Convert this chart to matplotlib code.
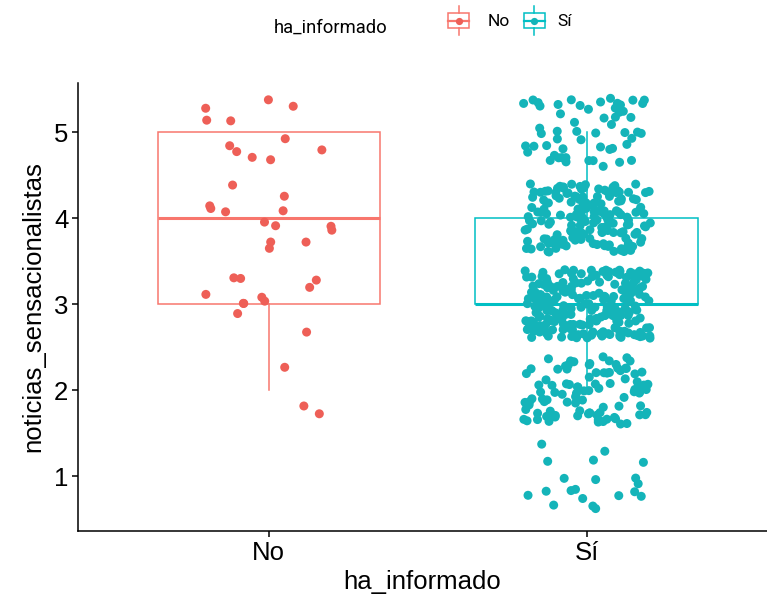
import numpy as np
import matplotlib
matplotlib.use("Agg")
import matplotlib.pyplot as plt
from matplotlib.patches import Rectangle
from matplotlib.lines import Line2D

# ---- data ----
groups = ["No", "Sí"]
levels = [1, 2, 3, 4, 5]
counts_no = [0, 3, 11, 13, 11]
counts_si = [20, 100, 230, 165, 55]
colors = ["#F8766D", "#00BFC4"]
point_colors = ["#EE5F57", "#14B4B9"]
x_label = "ha_informado"
y_label = "noticias_sensacionalistas"
legend_title = "ha_informado"
yticks = [1, 2, 3, 4, 5]

plt.rcParams['font.family'] = ['Liberation Sans', 'DejaVu Sans']

W, H = 767, 601
fig = plt.figure(figsize=(W / 100, H / 100), dpi=100)
ax = fig.add_axes([78 / W, 70 / H, 1 - 78 / W, (531 - 83) / H])

def expand(counts):
    vals = []
    for lv, c in zip(levels, counts):
        vals += [lv] * c
    return np.array(vals, dtype=float)

data = [expand(counts_no), expand(counts_si)]

# boxplots (outliers hidden, as in ggpubr with jitter)
for i, (d, c) in enumerate(zip(data, colors)):
    ax.boxplot(d, positions=[i + 1], widths=0.7, showfliers=False,
               patch_artist=True, whis=1.5,
               boxprops=dict(facecolor="white", edgecolor=c, linewidth=1.1),
               medianprops=dict(color=c, linewidth=2.2),
               whiskerprops=dict(color=c, linewidth=1.1),
               capprops=dict(linewidth=0), zorder=1)

# jitter offsets (position only, like geom_jitter): width 0.2, height 0.4
rng = np.random.default_rng(7)
for i, (d, pc) in enumerate(zip(data, point_colors)):
    n = len(d)
    xs = (i + 1) + rng.uniform(-0.2, 0.2, n)
    ys = d + rng.uniform(-0.4, 0.4, n)
    ax.scatter(xs, ys, s=42, color=pc, edgecolors="none", zorder=3)

ax.set_xlim(0.4, 0.4 + (W - 78) / 318)
ax.set_ylim(1 - (531 - 476) / 86, 5 + (132 - 83) / 86)
ax.set_xticks([1, 2])
ax.set_xticklabels(groups)
ax.set_yticks(yticks)
ax.set_yticklabels([str(t) for t in yticks])
for s in ["top", "right"]:
    ax.spines[s].set_visible(False)
for s in ["left", "bottom"]:
    ax.spines[s].set_linewidth(1.1)
ax.tick_params(axis="both", length=4, width=1.1, labelsize=18.5, colors="black", pad=3)
ax.set_xlabel(x_label, fontsize=18.5, labelpad=4)
ax.set_ylabel(y_label, fontsize=18.5, labelpad=6)

# ---- legend (drawn in figure pixel coordinates) ----
def fx(px):
    return px / W

def fy(py):
    return 1 - py / H

lfont = ["Roboto", "DejaVu Sans"]
fig.text(fx(274), fy(33), legend_title, ha="left", va="baseline",
         fontsize=13.2, family=lfont)

key_centers = [458.5, 534]
label_x = [488, 557]
for cx, lx, c, pc, g in zip(key_centers, label_x, colors, point_colors, groups):
    bw, top, bot = 21, 13, 28
    fig.add_artist(Rectangle((fx(cx - bw / 2), fy(bot)), bw / W, (bot - top) / H,
                             transform=fig.transFigure, fill=False,
                             edgecolor=c, linewidth=1.1))
    fig.add_artist(Line2D([fx(cx - bw / 2), fx(cx + bw / 2)], [fy(20.5), fy(20.5)],
                          transform=fig.transFigure, color=c, lw=1.6))
    fig.add_artist(Line2D([fx(cx), fx(cx)], [fy(6), fy(top)],
                          transform=fig.transFigure, color=c, lw=1.1))
    fig.add_artist(Line2D([fx(cx), fx(cx)], [fy(bot), fy(35)],
                          transform=fig.transFigure, color=c, lw=1.1))
    fig.add_artist(Line2D([fx(cx)], [fy(20.5)], marker="o", ms=5.2, mec="none",
                          transform=fig.transFigure, color=pc))
    fig.text(fx(lx), fy(21.5), g, ha="left", va="center", fontsize=12.5, family=lfont)

fig.savefig("out.png", dpi=100)
